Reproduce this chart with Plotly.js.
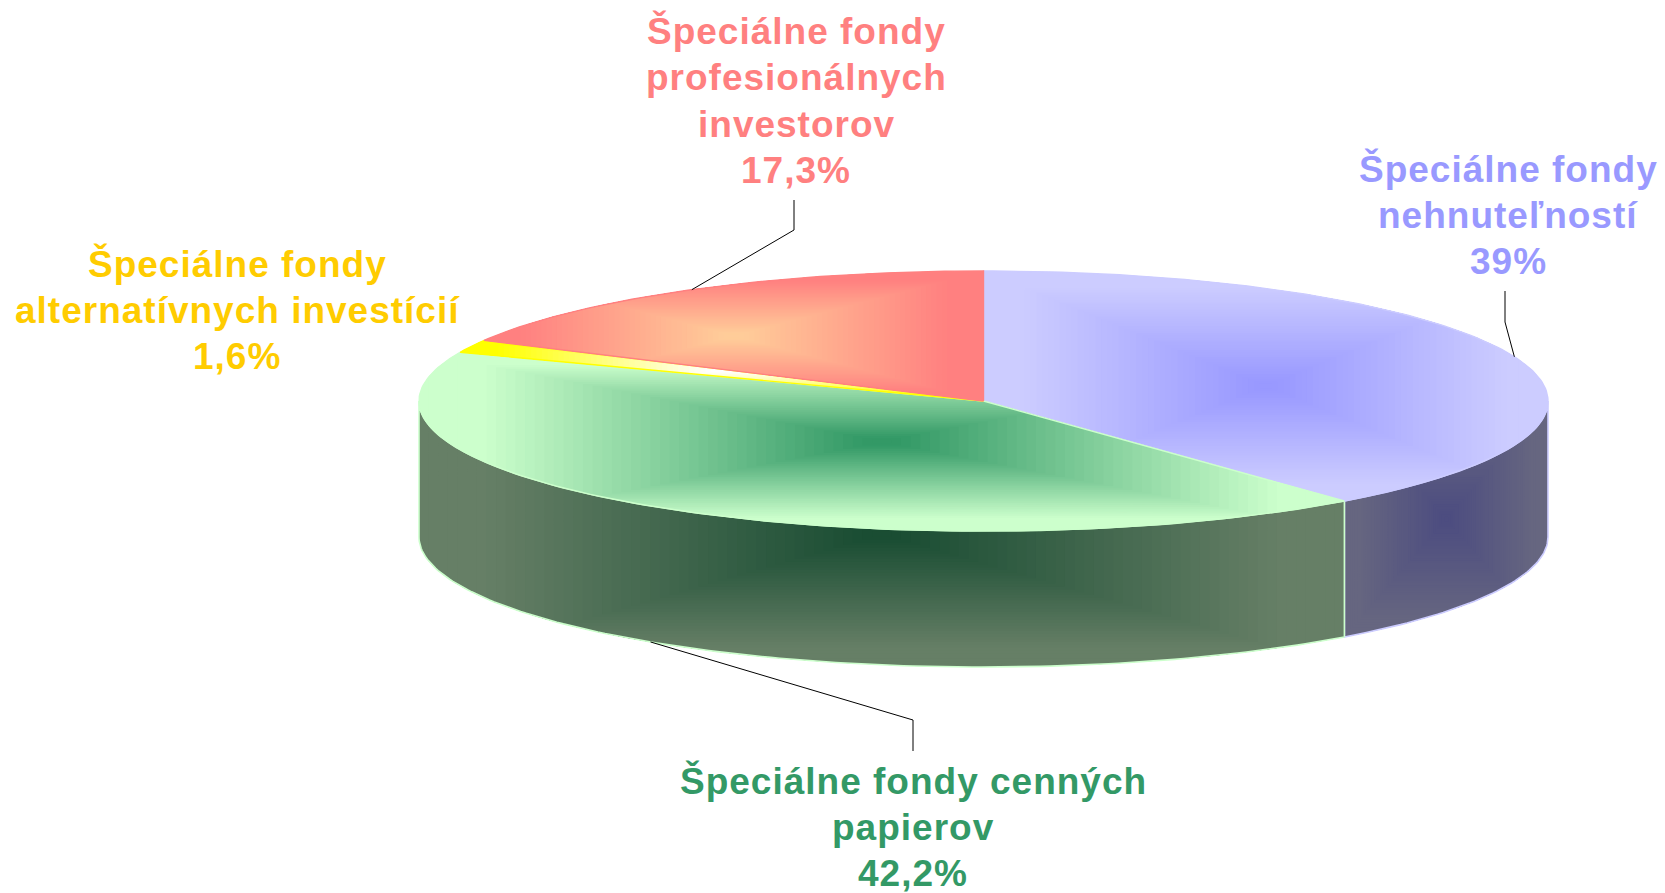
<!DOCTYPE html>
<html>
<head>
<meta charset="utf-8">
<script src="https://cdn.plot.ly/plotly-3.0.1.min.js"></script>
<style>
html,body{margin:0;padding:0;background:#fff;overflow:hidden}
#chart{width:1665px;height:893px}
.annotation-text{letter-spacing:1px}
</style>
</head>
<body>
<div id="chart"></div>
<script>
// ---- data ----
const categories = [
  "Špeciálne fondy<br>nehnuteľností",
  "Špeciálne fondy cenných<br>papierov",
  "Špeciálne fondy<br>alternatívnych investícií",
  "Špeciálne fondy<br>profesionálnych<br>investorov"
];
const values = [39, 42.2, 1.6, 17.3];

// ---- styles ----
const labelColors = ["#9999FF", "#339966", "#FFCC00", "#FF8080"];
const topCenter   = ["#9999FF", "#339966", "#FFFFFF", "#FFCC99"];
const topEdge     = ["#CCCCFF", "#CCFFCC", "#FFFF00", "#FF8080"];
const sideCenter  = ["#4D4D80", "#1A4D33", null, null];
const sideEdge    = ["#666680", "#667F66", null, null];
const sideBorder  = ["#CCCCFF", "#CCFFCC", null, null];
const labelPos    = [[1508, 215], [913, 827], [237, 310], [796, 101]];
const leaderKnees = [[[1505, 322], [1505, 291]], [[913, 720], [913, 751]], null, [[794, 230], [794, 200]]];
const LINE_STEP = 46.4;
const RAMP_START = 0.04, RAMP_END = 0.86;

// ---- pie geometry (pixel-valued data axes) ----
const cx = 983.5, cy = 401, rx = 564.5, ry = 130, depth = 136;
const LEVELS = 48;
const total = values.reduce((a, b) => a + b, 0);

const rim = (deg, dz) => {
  const r = deg * Math.PI / 180;
  return [cx + rx * Math.sin(r), cy - ry * Math.cos(r) + (dz || 0)];
};
const arc = (a, b, dz) => {
  const pts = [], n = Math.max(2, Math.ceil(Math.abs(b - a)));
  for (let i = 0; i <= n; i++) pts.push(rim(a + (b - a) * i / n, dz));
  return pts;
};
const hex = c => [1, 3, 5].map(i => parseInt(c.substr(i, 2), 16));
const mix = (a, b, t) => {
  const A = hex(a), B = hex(b);
  return "rgb(" + A.map((v, i) => Math.round(v + (B[i] - v) * t)).join(",") + ")";
};
const ramp = s => Math.min(1, Math.max(0, (s - RAMP_START) / (RAMP_END - RAMP_START)));

function clipRect(poly, x0, x1, y0, y1) {
  const planes = [
    [p => p[0] >= x0, (p, q) => { const t = (x0 - p[0]) / (q[0] - p[0]); return [x0, p[1] + t * (q[1] - p[1])]; }],
    [p => p[0] <= x1, (p, q) => { const t = (x1 - p[0]) / (q[0] - p[0]); return [x1, p[1] + t * (q[1] - p[1])]; }],
    [p => p[1] >= y0, (p, q) => { const t = (y0 - p[1]) / (q[1] - p[1]); return [p[0] + t * (q[0] - p[0]), y0]; }],
    [p => p[1] <= y1, (p, q) => { const t = (y1 - p[1]) / (q[1] - p[1]); return [p[0] + t * (q[0] - p[0]), y1]; }]
  ];
  let out = poly;
  for (const [inside, cross] of planes) {
    const src = out; out = [];
    for (let i = 0; i < src.length; i++) {
      const p = src[i], q = src[(i + 1) % src.length];
      const pi = inside(p), qi = inside(q);
      if (pi) out.push(p);
      if (pi !== qi) out.push(cross(p, q));
    }
    if (!out.length) break;
  }
  return out;
}

const traces = [];
function polyTrace(poly, fillColor) {
  const closed = poly.concat([poly[0]]);
  traces.push({
    x: closed.map(p => p[0]), y: closed.map(p => p[1]),
    type: "scatter", mode: "lines", fill: "toself",
    fillcolor: fillColor, line: {width: 0, color: fillColor},
    hoverinfo: "skip", showlegend: false
  });
}
function outlineTrace(poly, color, width) {
  const closed = poly.concat([poly[0]]);
  traces.push({
    x: closed.map(p => p[0]), y: closed.map(p => p[1]),
    type: "scatter", mode: "lines", line: {width: width, color: color},
    hoverinfo: "skip", showlegend: false
  });
}
function rectGradient(poly, center, edge) {
  const xs = poly.map(p => p[0]), ys = poly.map(p => p[1]);
  const x0 = Math.min(...xs), x1 = Math.max(...xs), y0 = Math.min(...ys), y1 = Math.max(...ys);
  const mx = (x0 + x1) / 2, my = (y0 + y1) / 2, hw = (x1 - x0) / 2, hh = (y1 - y0) / 2;
  polyTrace(poly, edge);
  for (let k = LEVELS; k >= 1; k--) {
    const s = k / LEVELS;
    const c = clipRect(poly, mx - hw * s, mx + hw * s, my - hh * s, my + hh * s);
    if (c.length > 2) polyTrace(c, mix(center, edge, ramp((k - 0.5) / LEVELS)));
  }
}

// slice angle spans, clockwise from 12 o'clock
const spans = [];
let acc = 0;
values.forEach(v => { const a = acc / total * 360; acc += v; spans.push([a, acc / total * 360]); });

// visible outer walls (front half of the ellipse only)
spans.forEach((sp, i) => {
  if (!sideCenter[i]) return;
  const a = Math.max(sp[0], 90), b = Math.min(sp[1], 270);
  if (b <= a) return;
  const poly = arc(a, b, depth).concat(arc(b, a, 0));
  rectGradient(poly, sideCenter[i], sideEdge[i]);
  outlineTrace(poly, sideBorder[i], 1.6);
});

// top faces
spans.forEach((sp, i) => {
  const poly = [[cx, cy]].concat(arc(sp[0], sp[1], 0));
  rectGradient(poly, topCenter[i], topEdge[i]);
  outlineTrace(poly, topEdge[i], 1.4);
});

// leader lines, anchored at the middle of each slice's rim
spans.forEach((sp, i) => {
  if (!leaderKnees[i]) return;
  const mid = (sp[0] + sp[1]) / 2;
  const front = mid > 90 && mid < 270;
  const start = rim(mid, front ? depth : 0);
  const line = [start].concat(leaderKnees[i]);
  traces.push({
    x: line.map(p => p[0]), y: line.map(p => p[1]),
    type: "scatter", mode: "lines", line: {width: 1, color: "#000000"},
    hoverinfo: "skip", showlegend: false
  });
});

// labels: one annotation per line for exact line spacing
const annotations = [];
categories.forEach((c, i) => {
  const lines = c.split("<br>").concat([String(values[i]).replace(".", ",") + "%"]);
  lines.forEach((t, j) => {
    annotations.push({
      x: labelPos[i][0], y: labelPos[i][1] + (j - (lines.length - 1) / 2) * LINE_STEP,
      xref: "x", yref: "y", text: t,
      showarrow: false, xanchor: "center", yanchor: "middle", align: "center",
      font: {family: "'Liberation Sans', Arial, sans-serif", size: 37, color: labelColors[i], weight: 700}
    });
  });
});

Plotly.newPlot("chart", traces, {
  width: 1665, height: 893,
  margin: {l: 0, r: 0, t: 0, b: 0},
  paper_bgcolor: "#FFFFFF", plot_bgcolor: "#FFFFFF",
  xaxis: {range: [0, 1665], visible: false, fixedrange: true},
  yaxis: {range: [893, 0], visible: false, fixedrange: true},
  showlegend: false,
  annotations: annotations
}, {displayModeBar: false, staticPlot: true});
</script>
</body>
</html>
